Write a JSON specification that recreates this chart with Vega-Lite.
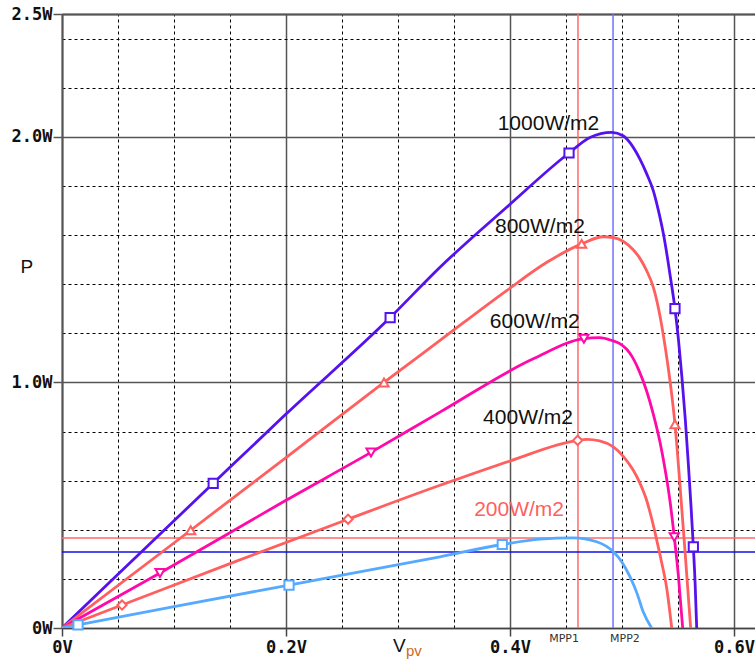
{
  "$schema": "https://vega.github.io/schema/vega-lite/v6.json",
  "width": 693,
  "height": 614,
  "autosize": {"type": "none"},
  "padding": {"left": 62, "top": 14, "right": 0, "bottom": 32},
  "background": "white",
  "config": {
    "view": {"stroke": null},
    "axis": {"labelFont": "DejaVu Sans Mono", "labelFontWeight": "bold", "labelFontSize": 17, "labelColor": "#111", "labelOverlap": false, "labelFlush": false}
  },
  "datasets": {
    "curves": [
      {"s": "1000", "v": 0, "p": 0}, {"s": "1000", "v": 0.05, "p": 0.219}, {"s": "1000", "v": 0.135, "p": 0.589}, {"s": "1000", "v": 0.2, "p": 0.871}, {"s": "1000", "v": 0.293, "p": 1.264}, {"s": "1000", "v": 0.3375, "p": 1.469}, {"s": "1000", "v": 0.397, "p": 1.713}, {"s": "1000", "v": 0.4527, "p": 1.934}, {"s": "1000", "v": 0.4714, "p": 1.997}, {"s": "1000", "v": 0.4908, "p": 2.018}, {"s": "1000", "v": 0.5009, "p": 2.004}, {"s": "1000", "v": 0.516, "p": 1.909}, {"s": "1000", "v": 0.522, "p": 1.85}, {"s": "1000", "v": 0.528, "p": 1.78}, {"s": "1000", "v": 0.533, "p": 1.69}, {"s": "1000", "v": 0.537, "p": 1.604}, {"s": "1000", "v": 0.5405, "p": 1.51}, {"s": "1000", "v": 0.5435, "p": 1.42}, {"s": "1000", "v": 0.5473, "p": 1.3}, {"s": "1000", "v": 0.5505, "p": 1.17}, {"s": "1000", "v": 0.5535, "p": 1.02}, {"s": "1000", "v": 0.5565, "p": 0.85}, {"s": "1000", "v": 0.5592, "p": 0.67}, {"s": "1000", "v": 0.5617, "p": 0.49}, {"s": "1000", "v": 0.5637, "p": 0.33}, {"s": "1000", "v": 0.5653, "p": 0.18}, {"s": "1000", "v": 0.5667, "p": 0.0},
      {"s": "800", "v": 0, "p": 0}, {"s": "800", "v": 0.1149, "p": 0.398}, {"s": "800", "v": 0.2, "p": 0.694}, {"s": "800", "v": 0.2875, "p": 1.0}, {"s": "800", "v": 0.3375, "p": 1.171}, {"s": "800", "v": 0.397, "p": 1.374}, {"s": "800", "v": 0.4333, "p": 1.49}, {"s": "800", "v": 0.464, "p": 1.564}, {"s": "800", "v": 0.4833, "p": 1.593}, {"s": "800", "v": 0.492, "p": 1.59}, {"s": "800", "v": 0.501, "p": 1.575}, {"s": "800", "v": 0.51, "p": 1.54}, {"s": "800", "v": 0.516, "p": 1.505}, {"s": "800", "v": 0.522, "p": 1.455}, {"s": "800", "v": 0.528, "p": 1.387}, {"s": "800", "v": 0.533, "p": 1.292}, {"s": "800", "v": 0.537, "p": 1.19}, {"s": "800", "v": 0.5405, "p": 1.085}, {"s": "800", "v": 0.5444, "p": 0.95}, {"s": "800", "v": 0.5473, "p": 0.83}, {"s": "800", "v": 0.5518, "p": 0.58}, {"s": "800", "v": 0.5563, "p": 0.31}, {"s": "800", "v": 0.5613, "p": 0.0},
      {"s": "600", "v": 0, "p": 0}, {"s": "600", "v": 0.0875, "p": 0.224}, {"s": "600", "v": 0.2, "p": 0.52}, {"s": "600", "v": 0.2759, "p": 0.715}, {"s": "600", "v": 0.3375, "p": 0.879}, {"s": "600", "v": 0.4208, "p": 1.096}, {"s": "600", "v": 0.466, "p": 1.178}, {"s": "600", "v": 0.48, "p": 1.182}, {"s": "600", "v": 0.4908, "p": 1.171}, {"s": "600", "v": 0.498, "p": 1.158}, {"s": "600", "v": 0.5042, "p": 1.135}, {"s": "600", "v": 0.5086, "p": 1.108}, {"s": "600", "v": 0.515, "p": 1.05}, {"s": "600", "v": 0.522, "p": 0.965}, {"s": "600", "v": 0.528, "p": 0.87}, {"s": "600", "v": 0.534, "p": 0.755}, {"s": "600", "v": 0.5385, "p": 0.645}, {"s": "600", "v": 0.5429, "p": 0.515}, {"s": "600", "v": 0.5467, "p": 0.37}, {"s": "600", "v": 0.5503, "p": 0.215}, {"s": "600", "v": 0.5542, "p": 0.0},
      {"s": "400", "v": 0, "p": 0}, {"s": "400", "v": 0.0536, "p": 0.0935}, {"s": "400", "v": 0.15, "p": 0.262}, {"s": "400", "v": 0.2554, "p": 0.443}, {"s": "400", "v": 0.3375, "p": 0.581}, {"s": "400", "v": 0.4, "p": 0.68}, {"s": "400", "v": 0.4604, "p": 0.764}, {"s": "400", "v": 0.4685, "p": 0.768}, {"s": "400", "v": 0.48, "p": 0.762}, {"s": "400", "v": 0.4923, "p": 0.737}, {"s": "400", "v": 0.5015, "p": 0.697}, {"s": "400", "v": 0.5101, "p": 0.642}, {"s": "400", "v": 0.516, "p": 0.59}, {"s": "400", "v": 0.522, "p": 0.52}, {"s": "400", "v": 0.5265, "p": 0.445}, {"s": "400", "v": 0.531, "p": 0.358}, {"s": "400", "v": 0.5355, "p": 0.265}, {"s": "400", "v": 0.54, "p": 0.16}, {"s": "400", "v": 0.5444, "p": 0.0},
      {"s": "200", "v": 0, "p": 0}, {"s": "200", "v": 0.0143, "p": 0.0125}, {"s": "200", "v": 0.1, "p": 0.087}, {"s": "200", "v": 0.2027, "p": 0.175}, {"s": "200", "v": 0.3375, "p": 0.29}, {"s": "200", "v": 0.3931, "p": 0.34}, {"s": "200", "v": 0.4268, "p": 0.362}, {"s": "200", "v": 0.4565, "p": 0.367}, {"s": "200", "v": 0.4774, "p": 0.351}, {"s": "200", "v": 0.4923, "p": 0.31}, {"s": "200", "v": 0.5, "p": 0.268}, {"s": "200", "v": 0.5071, "p": 0.209}, {"s": "200", "v": 0.5135, "p": 0.14}, {"s": "200", "v": 0.519, "p": 0.065}, {"s": "200", "v": 0.5265, "p": 0.0}
    ],
    "markers": [
      {"s": "1000", "v": 0.135, "p": 0.589}, {"s": "1000", "v": 0.293, "p": 1.264}, {"s": "1000", "v": 0.4527, "p": 1.934}, {"s": "1000", "v": 0.5473, "p": 1.3}, {"s": "1000", "v": 0.5637, "p": 0.33},
      {"s": "800", "v": 0.1149, "p": 0.398}, {"s": "800", "v": 0.2875, "p": 1.0}, {"s": "800", "v": 0.464, "p": 1.564}, {"s": "800", "v": 0.5473, "p": 0.83},
      {"s": "600", "v": 0.0875, "p": 0.224}, {"s": "600", "v": 0.2759, "p": 0.715}, {"s": "600", "v": 0.466, "p": 1.178}, {"s": "600", "v": 0.5467, "p": 0.37},
      {"s": "400", "v": 0.0536, "p": 0.0935}, {"s": "400", "v": 0.2554, "p": 0.443}, {"s": "400", "v": 0.4604, "p": 0.764},
      {"s": "200", "v": 0.0143, "p": 0.0125}, {"s": "200", "v": 0.2027, "p": 0.175}, {"s": "200", "v": 0.3931, "p": 0.34}
    ],
    "labels": [
      {"t": "1000W/m2", "v": 0.389, "p": 2.053},
      {"t": "800W/m2", "v": 0.3866, "p": 1.634},
      {"t": "600W/m2", "v": 0.382, "p": 1.244},
      {"t": "400W/m2", "v": 0.376, "p": 0.854},
      {"t": "200W/m2", "v": 0.368, "p": 0.48}
    ],
    "cursors": [
      {"c": "MPP1", "v": 0.4607, "p": 0.366},
      {"c": "MPP2", "v": 0.492, "p": 0.309}
    ],
    "annot": [
      {"t": "V", "v": 0.2955, "p": -0.075},
      {"t": "pv", "v": 0.3071, "p": -0.112},
      {"t": "P", "v": -0.0313, "p": 1.4715}
    ]
  },
  "layer": [
    {
      "data": {"name": "cursors"},
      "transform": [{"filter": "datum.c == 'MPP1'"}],
      "mark": {"type": "rule", "color": "#ff6a6a", "strokeWidth": 1.5},
      "encoding": {"x": {"field": "v", "type": "quantitative", "axis": null}}
    },
    {
      "data": {"name": "cursors"},
      "transform": [{"filter": "datum.c == 'MPP1'"}],
      "mark": {"type": "rule", "color": "#ff6a6a", "strokeWidth": 1.5},
      "encoding": {"y": {"field": "p", "type": "quantitative", "axis": null}}
    },
    {
      "data": {"name": "cursors"},
      "transform": [{"filter": "datum.c == 'MPP2'"}],
      "mark": {"type": "rule", "color": "#7070ff", "strokeWidth": 1.5},
      "encoding": {"x": {"field": "v", "type": "quantitative", "axis": null}}
    },
    {
      "data": {"name": "cursors"},
      "transform": [{"filter": "datum.c == 'MPP2'"}],
      "mark": {"type": "rule", "color": "#1010e0", "strokeWidth": 1.5},
      "encoding": {"y": {"field": "p", "type": "quantitative", "axis": null}}
    },
    {
      "data": {"name": "curves"},
      "mark": {"type": "line", "strokeWidth": 2.8, "interpolate": "monotone", "clip": true},
      "encoding": {
        "x": {
          "field": "v", "type": "quantitative",
          "scale": {"domain": [0, 0.61875], "nice": false, "zero": false},
          "axis": {"orient": "bottom", "values": [0, 0.2, 0.4, 0.6], "grid": true, "gridColor": "#555", "gridWidth": 1.5, "domainColor": "#444", "domainWidth": 1.5, "tickColor": "#444", "tickWidth": 1.5, "tickSize": 8, "labelPadding": 3, "labelExpr": "datum.value == 0 ? '0V' : format(datum.value, '.1f') + 'V'", "title": null}
        },
        "y": {
          "field": "p", "type": "quantitative",
          "scale": {"domain": [0, 2.5], "nice": false},
          "axis": {"orient": "left", "values": [0, 1, 2, 2.5], "grid": true, "gridColor": "#555", "gridWidth": 1.5, "domainColor": "#555", "domainWidth": 2, "tickColor": "#555", "tickWidth": 1.5, "tickSize": 9, "labelPadding": 1, "labelExpr": "datum.value == 0 ? '0W' : format(datum.value, '.1f') + 'W'", "title": null}
        },
        "color": {"field": "s", "type": "nominal", "legend": null, "scale": {"domain": ["1000", "800", "600", "400", "200"], "range": ["#5512ee", "#ff5f5f", "#ff0aa8", "#ff5f5f", "#55aaff"]}},
        "detail": {"field": "s"}
      }
    },
    {
      "data": {"name": "markers"},
      "mark": {"type": "point", "filled": false, "fill": "white", "strokeWidth": 2, "size": 85, "opacity": 1},
      "encoding": {
        "x": {"field": "v", "type": "quantitative", "axis": {"orient": "top", "values": [0.05, 0.1, 0.15, 0.25, 0.3, 0.35, 0.45, 0.5, 0.55], "grid": true, "gridDash": [3, 3], "gridColor": "#000", "gridWidth": 1, "labels": false, "ticks": false, "domain": true, "domainColor": "#555", "domainWidth": 2, "title": null}},
        "y": {"field": "p", "type": "quantitative", "axis": {"orient": "right", "values": [0.2, 0.4, 0.6, 0.8, 1.2, 1.4, 1.6, 1.8, 2.2, 2.4], "grid": true, "gridDash": [3, 3], "gridColor": "#000", "gridWidth": 1, "labels": false, "ticks": false, "domain": false, "title": null}},
        "color": {"field": "s", "type": "nominal", "legend": null},
        "shape": {"field": "s", "type": "nominal", "legend": null, "scale": {"domain": ["1000", "800", "600", "400", "200"], "range": ["square", "triangle-up", "triangle-down", "diamond", "square"]}}
      }
    },
    {
      "data": {"name": "labels"},
      "transform": [{"filter": "datum.t != '200W/m2'"}],
      "mark": {"type": "text", "align": "left", "baseline": "middle", "font": "Liberation Sans", "fontSize": 21, "color": "#111"},
      "encoding": {
        "x": {"field": "v", "type": "quantitative", "axis": null},
        "y": {"field": "p", "type": "quantitative", "axis": null},
        "text": {"field": "t"}
      }
    },
    {
      "data": {"name": "labels"},
      "transform": [{"filter": "datum.t == '200W/m2'"}],
      "mark": {"type": "text", "align": "left", "baseline": "middle", "font": "Liberation Sans", "fontSize": 21, "color": "#ff5f5f"},
      "encoding": {
        "x": {"field": "v", "type": "quantitative", "axis": null},
        "y": {"field": "p", "type": "quantitative", "axis": null},
        "text": {"field": "t"}
      }
    },
    {
      "data": {"name": "cursors"},
      "transform": [{"filter": "datum.c == 'MPP1'"}],
      "mark": {"type": "text", "align": "right", "baseline": "middle", "font": "DejaVu Sans", "fontSize": 11, "color": "#333", "dx": 1},
      "encoding": {
        "x": {"field": "v", "type": "quantitative", "axis": null},
        "y": {"datum": -0.045, "type": "quantitative", "axis": null},
        "text": {"field": "c"}
      }
    },
    {
      "data": {"name": "cursors"},
      "transform": [{"filter": "datum.c == 'MPP2'"}],
      "mark": {"type": "text", "align": "left", "baseline": "middle", "font": "DejaVu Sans", "fontSize": 11, "color": "#333", "dx": -3},
      "encoding": {
        "x": {"field": "v", "type": "quantitative", "axis": null},
        "y": {"datum": -0.045, "type": "quantitative", "axis": null},
        "text": {"field": "c"}
      }
    },
    {
      "data": {"name": "annot"},
      "transform": [{"filter": "datum.t == 'V'"}],
      "mark": {"type": "text", "align": "left", "baseline": "middle", "font": "Liberation Sans", "fontSize": 19, "color": "#111"},
      "encoding": {
        "x": {"field": "v", "type": "quantitative", "axis": null},
        "y": {"field": "p", "type": "quantitative", "axis": null},
        "text": {"field": "t"}
      }
    },
    {
      "data": {"name": "annot"},
      "transform": [{"filter": "datum.t == 'pv'"}],
      "mark": {"type": "text", "align": "left", "baseline": "alphabetic", "font": "Liberation Sans", "fontSize": 15, "color": "#c8691f"},
      "encoding": {
        "x": {"field": "v", "type": "quantitative", "axis": null},
        "y": {"field": "p", "type": "quantitative", "axis": null},
        "text": {"field": "t"}
      }
    },
    {
      "data": {"name": "annot"},
      "transform": [{"filter": "datum.t == 'P'"}],
      "mark": {"type": "text", "align": "center", "baseline": "middle", "font": "Liberation Sans", "fontSize": 19, "color": "#111"},
      "encoding": {
        "x": {"field": "v", "type": "quantitative", "axis": null},
        "y": {"field": "p", "type": "quantitative", "axis": null},
        "text": {"field": "t"}
      }
    }
  ],
  "resolve": {"axis": {"x": "independent", "y": "independent"}}
}
